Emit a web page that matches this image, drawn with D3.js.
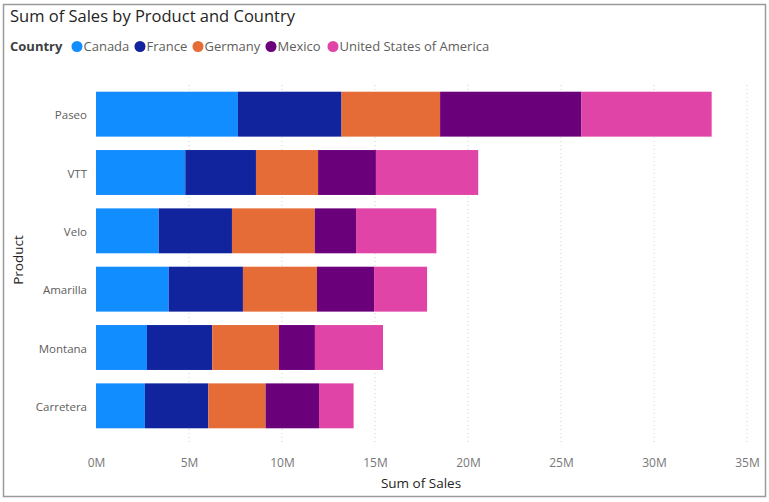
<!DOCTYPE html>
<html><head><meta charset="utf-8">
<script src="https://cdn.jsdelivr.net/npm/d3@7"></script>
<style>body{margin:0;background:#fff}svg{display:block}</style>
</head><body>
<svg id="c" width="769" height="502"></svg>
<script>
const products = ["Paseo","VTT","Velo","Amarilla","Montana","Carretera"];
const countries = ["Canada","France","Germany","Mexico","United States of America"];
const colors = ["#118DFF","#12239E","#E66C37","#6B007B","#E044A7"];
// sales in millions, per product (order of products), per country
const canada  = [7.63, 4.80, 3.37, 3.91, 2.74, 2.63];
const france  = [5.57, 3.80, 3.94, 3.99, 3.51, 3.41];
const germany = [5.30, 3.34, 4.45, 3.98, 3.59, 3.08];
const mexico  = [7.60, 3.11, 2.22, 3.07, 1.93, 2.87];
const usa     = [7.00, 5.50, 4.32, 2.85, 3.66, 1.86];
const xTicks = [0,5,10,15,20,25,30,35];

const font = "'Segoe UI','Open Sans','Noto Sans',sans-serif";
const svg = d3.select("#c");
svg.append("rect").attr("x",3.5).attr("y",4.5).attr("width",762).attr("height",492)
  .attr("fill","#fff").attr("stroke","#9a9a9a").attr("stroke-width",1.5);

svg.append("text").attr("x",10).attr("y",22).text("Sum of Sales by Product and Country")
  .attr("font-family",font).attr("font-size",16.5).attr("fill","#252423");

// legend
const lg = svg.append("g").attr("font-family",font).attr("font-size",13);
lg.append("text").attr("x",10).attr("y",51).text("Country").attr("font-weight","bold").attr("fill","#404040");
const lx = [77,140,198,271,333];
countries.forEach((c,i)=>{
  lg.append("circle").attr("cx",lx[i]).attr("cy",46.5).attr("r",5.5).attr("fill",colors[i]);
  lg.append("text").attr("x",lx[i]+6.5).attr("y",51).text(c).attr("fill","#605E5C");
});

const series = [canada,france,germany,mexico,usa];
const rows = products.map((p,j)=>{const o={product:p}; countries.forEach((c,i)=>o[c]=series[i][j]); return o;});
const stack = d3.stack().keys(countries)(rows);

const x = d3.scaleLinear().domain([0,35]).range([96,747]);
const y = d3.scaleBand().domain(products).range([85,435]).paddingInner(0.23).paddingOuter(0.115);

// grid
svg.append("g").selectAll("line").data(xTicks.slice(1)).join("line")
  .attr("x1",d=>x(d)).attr("x2",d=>x(d)).attr("y1",85).attr("y2",445)
  .attr("stroke","#d0d0d0").attr("stroke-dasharray","1,3");

// bars
svg.append("g").selectAll("g").data(stack).join("g").attr("fill",(d,i)=>colors[i])
  .selectAll("rect").data(d=>d).join("rect")
  .attr("x",d=>x(d[0])).attr("width",d=>x(d[1])-x(d[0]))
  .attr("y",d=>y(d.data.product)).attr("height",y.bandwidth());

// x axis
const xa = svg.append("g").attr("transform","translate(0,455)")
  .call(d3.axisBottom(x).tickValues(xTicks).tickFormat(d=>d+"M").tickSize(0));
xa.select(".domain").remove();
xa.selectAll("text").attr("font-family",font).attr("font-size",12).attr("fill","#777");

// y axis
const ya = svg.append("g").attr("transform","translate(87,1.5)")
  .call(d3.axisLeft(y).tickSize(0).tickPadding(0));
ya.select(".domain").remove();
ya.selectAll("text").attr("font-family",font).attr("font-size",11.5).attr("fill","#605E5C");

svg.append("text").attr("x",421).attr("y",488).attr("text-anchor","middle").text("Sum of Sales")
  .attr("font-family",font).attr("font-size",13.5).attr("fill","#252423");
svg.append("text").attr("transform","translate(23,260) rotate(-90)").attr("text-anchor","middle").text("Product")
  .attr("font-family",font).attr("font-size",13.5).attr("fill","#252423");
</script>
</body></html>
